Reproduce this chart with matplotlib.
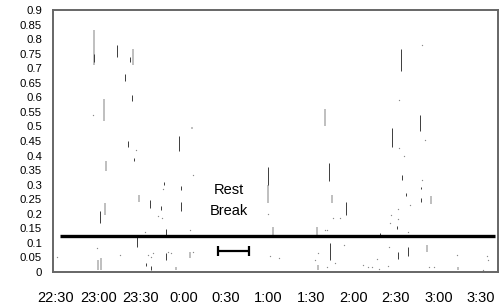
import matplotlib
matplotlib.use('Agg')
import matplotlib.pyplot as plt
import numpy as np

plt.rcParams['font.family'] = ['Liberation Sans', 'DejaVu Sans']

# time in minutes after 22:30
tick_minutes = [0, 30, 60, 90, 120, 150, 180, 210, 240, 270, 300]
tick_labels = ['22:30', '23:00', '23:30', '0:00', '0:30', '1:00',
               '1:30', '2:00', '2:30', '3:00', '3:30']
y_ticks = np.arange(0, 0.91, 0.05)
y_labels = ['0', '0.05', '0.1', '0.15', '0.2', '0.25', '0.3', '0.35', '0.4', '0.45',
            '0.5', '0.55', '0.6', '0.65', '0.7', '0.75', '0.8', '0.85', '0.9']

# dark vertical traces: time, low, high
dark_t = [26.6, 43.3, 52.4, 48.9, 53.4, 86.8, 50.6, 55.3, 76.2, 88.5, 66.1, 88.0,
          74.3, 30.8, 77.9, 57.4, 77.4, 63.3, 67.3,
          243.2, 256.6, 237.1, 149.8, 192.7, 204.4, 193.4, 244.4, 257.4, 246.8,
          257.6, 240.9, 228.7, 241.6, 248.7]
dark_lo = [0.72, 0.74, 0.72, 0.655, 0.586, 0.414, 0.43, 0.383, 0.30, 0.283, 0.22, 0.208,
           0.214, 0.168, 0.128, 0.087, 0.041, 0.021, 0.007,
           0.69, 0.486, 0.43, 0.30, 0.311, 0.197, 0.041, 0.315, 0.286, 0.26,
           0.242, 0.148, 0.12, 0.044, 0.055]
dark_hi = [0.75, 0.78, 0.74, 0.68, 0.607, 0.466, 0.45, 0.393, 0.308, 0.297, 0.246, 0.239,
           0.228, 0.208, 0.148, 0.122, 0.066, 0.032, 0.021,
           0.765, 0.538, 0.493, 0.359, 0.376, 0.239, 0.099, 0.334, 0.293, 0.273,
           0.255, 0.159, 0.134, 0.07, 0.087]

# light vertical traces
light_t = [26.6, 54.3, 33.6, 96.2, 35.5, 58.6, 34.6, 94.3, 29.6, 31.5, 84.9,
           189.6, 149.8, 194.5, 152.9, 184.4, 264.6, 261.6, 284.0, 184.6]
light_lo = [0.71, 0.71, 0.517, 0.49, 0.348, 0.242, 0.197, 0.047, 0.007, 0.007, 0.007,
            0.503, 0.238, 0.238, 0.122, 0.122, 0.234, 0.067, 0.007, 0.007]
light_hi = [0.83, 0.765, 0.593, 0.497, 0.38, 0.266, 0.238, 0.07, 0.041, 0.048, 0.018,
            0.559, 0.30, 0.266, 0.156, 0.156, 0.26, 0.093, 0.018, 0.025]

# isolated points
dot_t = [26.1, 56.2, 96.7, 75.8, 72.0, 75.0, 62.6, 94.8, 29.1, 44.9, 65.0, 67.0,
         68.5, 79.0, 81.0, 97.0, 0.7,
         258.5, 242.3, 260.3, 242.2, 245.8, 258.2, 250.0, 241.5, 150.0, 200.4,
         195.7, 189.8, 203.2, 185.1, 196.9, 151.0, 157.4, 236.4, 235.7, 241.6,
         248.6, 235.2, 283.2, 304.0, 304.7, 226.3, 216.4, 220.4, 222.8, 228.2,
         234.1, 263.5, 267.0, 301.6, 191.0, 182.8, 191.0]
dot_v = [0.54, 0.42, 0.334, 0.286, 0.193, 0.186, 0.139, 0.145, 0.083, 0.059, 0.06, 0.05,
         0.065, 0.07, 0.065, 0.07, 0.053,
         0.78, 0.59, 0.452, 0.425, 0.397, 0.317, 0.23, 0.217, 0.20, 0.185,
         0.185, 0.145, 0.093, 0.064, 0.03, 0.055, 0.047, 0.197, 0.17, 0.182,
         0.136, 0.085, 0.059, 0.055, 0.041, 0.044, 0.024, 0.016, 0.016, 0.009,
         0.021, 0.018, 0.018, 0.007, 0.145, 0.041, 0.018]

threshold = 0.122
threshold_span = (2.6, 310)
rest_start, rest_end, rest_level = 114.6, 136.4, 0.073

fig = plt.figure(figsize=(4.99, 3.08), dpi=100)
ax = fig.add_axes([0.1062, 0.1169, 0.8918, 0.8506])

ax.vlines(light_t, light_lo, light_hi, color='#b4b4b4', lw=1.2)
ax.vlines(dark_t, dark_lo, dark_hi, color='#3c3c3c', lw=0.7)
ax.scatter(dot_t, dot_v, s=0.9, color='#8a8a8a', lw=0)

ax.hlines(threshold, threshold_span[0], threshold_span[1], color='black', lw=2.4)
ax.errorbar([(rest_start + rest_end) / 2], [rest_level],
            xerr=[(rest_end - rest_start) / 2], color='black', lw=1.6,
            capsize=3.5, capthick=1.6)
ax.text(122, 0.28, 'Rest', ha='center', va='center', fontsize=10.5)
ax.text(122, 0.208, 'Break', ha='center', va='center', fontsize=10.5)

ax.set_xlim(-2.1, 312)
ax.set_ylim(0, 0.9)
ax.set_xticks(tick_minutes, tick_labels, fontsize=10.5)
ax.set_yticks(y_ticks, y_labels, fontsize=8.2)
ax.tick_params(axis='x', length=0, pad=14)
ax.tick_params(axis='y', length=0, pad=8)
for s in ax.spines.values():
    s.set_linestyle((0, (1, 1)))
    s.set_color('#666666')
    s.set_linewidth(1.4)

fig.savefig('out.png', dpi=100)
